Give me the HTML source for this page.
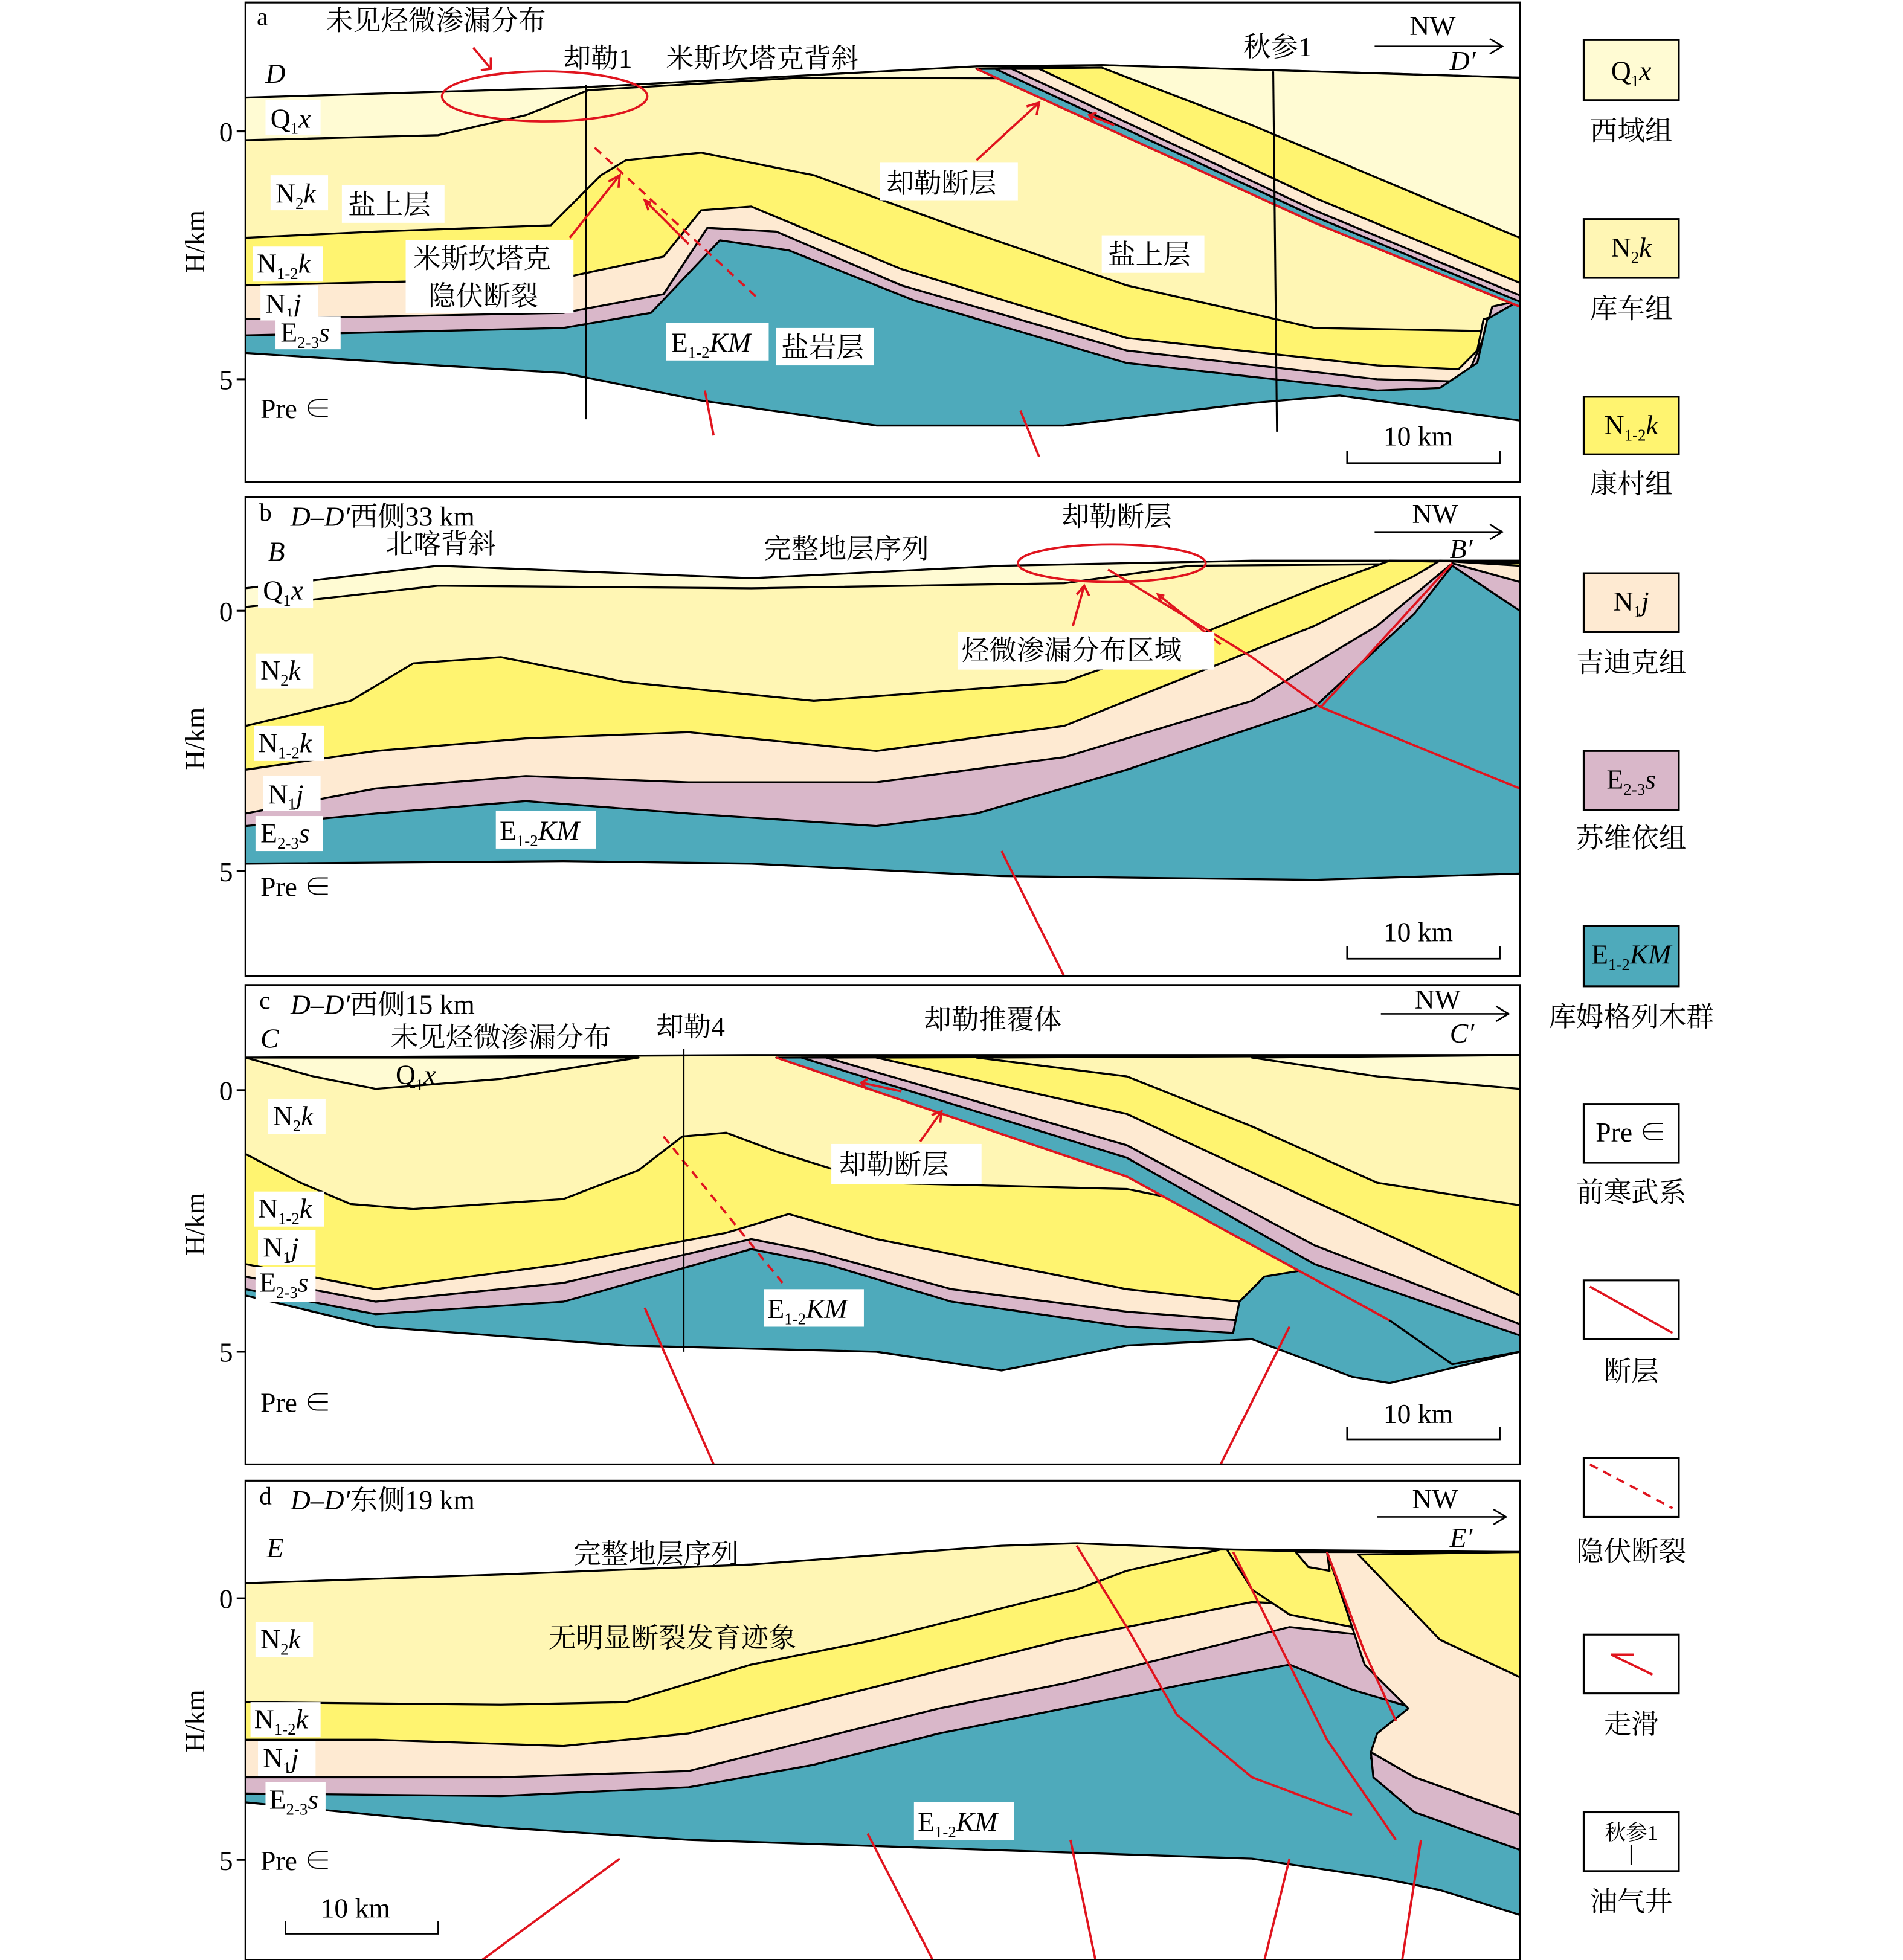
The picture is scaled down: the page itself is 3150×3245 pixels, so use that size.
<!DOCTYPE html>
<html><head><meta charset="utf-8"><style>
html,body{margin:0;padding:0;background:#fff}
svg{display:block}
text{font-family:"Liberation Serif","Noto Serif CJK SC",serif;fill:#000}
.l{stroke:#000;stroke-width:1.6;stroke-linejoin:round}
.q{fill:#fffbd3}.n2{fill:#fff6b4}.y{fill:#fff470}.p{fill:#feead2}.k{fill:#d9b7c9}.t{fill:#4eaabb}.w{fill:#fff}
.r{stroke:#e0141e;stroke-width:1.8;fill:none}
.rd{stroke:#e0141e;stroke-width:1.8;fill:none;stroke-dasharray:7 5}
.lb{fill:#fff}
</style></head><body>
<svg width="3150" height="3245" viewBox="0 0 1520 1566" xmlns="http://www.w3.org/2000/svg">
<defs>
<clipPath id="ca"><rect x="196" y="2" width="1018" height="383"/></clipPath>
<clipPath id="cb"><rect x="196" y="397" width="1018" height="383"/></clipPath>
<clipPath id="cc"><rect x="196" y="787" width="1018" height="383"/></clipPath>
<clipPath id="cd"><rect x="196" y="1183" width="1018" height="383"/></clipPath>
</defs>

<!-- ========== PANEL A ========== -->
<g clip-path="url(#ca)">
<polygon class="q l" points="196,78 460,70 780,53 880,52 1214,62 1214,385 196,385"/>
<polygon class="n2 l" points="196,112 350,108 420,92 470,72 640,62 1214,64 1214,385 196,385"/>
<polygon class="y l" points="196,190 300,185 440,180 480,140 500,128 560,122 650,140 760,180 900,228 1050,262 1214,265 1214,385 196,385"/>
<polygon class="p l" points="196,228 450,222 530,205 560,168 600,165 720,215 900,270 1100,292 1165,295 1180,280 1185,255 1214,248 1214,385 196,385"/>
<polygon class="k l" points="196,255 450,250 530,235 565,182 620,185 720,228 900,280 1100,303 1170,305 1185,270 1192,245 1214,240 1214,385 196,385"/>
<polygon class="t l" points="196,268 450,262 520,250 575,192 630,200 730,240 900,290 1100,312 1150,310 1180,290 1188,255 1214,240 1214,385 196,385"/>
<polygon class="w l" points="196,282 350,292 450,298 560,320 700,340 850,340 1000,322 1070,316 1214,336 1214,390 196,390"/>
<!-- thrust sheet -->
<polygon class="q l" points="780,55 880,52 1214,62 1214,245 1050,178"/>
<polygon class="y l" points="880,54 1000,100 1214,190 1214,245 1050,178 780,55"/>
<polygon class="p l" points="830,55 1050,158 1214,226 1214,245 1050,178 780,55"/>
<polygon class="k l" points="808,55 1050,168 1214,236 1214,245 1050,178 780,55"/>
<polygon class="t l" points="795,55 1050,173 1214,241 1214,245 1050,178 780,55"/>
<polyline class="r" points="780,55 1050,178 1214,245"/>
<line class="rd" x1="475" y1="118" x2="605" y2="238"/>
<line class="r" x1="563" y1="312" x2="570" y2="348"/>
<line class="r" x1="815" y1="328" x2="830" y2="365"/>
<line stroke="#000" stroke-width="1.5" x1="468" y1="68" x2="468" y2="335"/>
<line stroke="#000" stroke-width="1.5" x1="1017" y1="57" x2="1020" y2="345"/>
<ellipse class="r" cx="435" cy="77" rx="82" ry="20"/>
<path class="r" d="M378,38 L392,55 M384,56 L392,55 L392,46"/>
<path class="r" d="M455,190 L495,140 M486,145 L495,140 L494,150"/>
<path class="r" d="M515,160 L550,195 M520,162 L515,160 L518,168"/>
<path class="r" d="M780,128 L830,82 M820,85 L830,82 L828,92"/>
<path class="r" d="M870,92 L890,100 M876,90 L870,92 L874,98"/>
</g>
<rect x="196" y="2" width="1018" height="383" fill="none" stroke="#000" stroke-width="1.5"/>

<!-- ========== PANEL B ========== -->
<g clip-path="url(#cb)">
<polygon class="q l" points="196,470 350,452 600,462 800,452 1000,448 1214,448 1214,780 196,780"/>
<polygon class="n2 l" points="196,485 350,468 600,470 850,466 950,452 1214,450 1214,780 196,780"/>
<polygon class="y l" points="196,580 280,560 330,530 400,525 500,545 650,560 850,545 950,510 1050,470 1110,448 1214,450 1214,780 196,780"/>
<polygon class="p l" points="196,615 300,600 420,590 550,585 700,600 850,580 950,540 1050,500 1130,460 1150,448 1214,452 1214,780 196,780"/>
<polygon class="k l" points="196,650 300,630 420,620 550,625 700,625 850,605 1000,560 1100,500 1160,450 1214,465 1214,780 196,780"/>
<polygon class="t l" points="196,660 300,650 420,640 550,650 700,660 780,650 900,615 1050,565 1130,490 1160,452 1214,488 1214,780 196,780"/>
<polygon class="w l" points="196,690 450,688 600,690 800,700 1050,703 1214,698 1214,785 196,785"/>
<polyline class="r" points="885,455 1000,525 1055,565 1214,630"/>
<polyline class="r" points="1055,565 1160,450"/>
<line class="r" x1="800" y1="680" x2="850" y2="780"/>
<ellipse class="r" cx="888" cy="450" rx="75" ry="15"/>
<path class="r" d="M857,500 L866,468 M860,475 L866,468 L870,476"/>
<path class="r" d="M925,475 L975,515 M930,476 L925,475 L928,482"/>
</g>
<rect x="196" y="397" width="1018" height="383" fill="none" stroke="#000" stroke-width="1.5"/>

<!-- ========== PANEL C ========== -->
<g clip-path="url(#cc)">
<polygon class="n2 l" points="196,845 600,843 1214,843 1214,1170 196,1170"/>
<polygon class="q l" points="196,845 510,845 400,862 300,870 250,860"/>
<polygon class="y l" points="196,922 240,945 280,962 330,966 450,958 510,935 545,908 580,905 620,920 700,945 900,950 1100,990 1214,990 1214,1170 196,1170"/>
<polygon class="p l" points="196,1010 300,1030 450,1010 580,985 630,970 700,990 800,1010 900,1030 990,1040 1214,1060 1214,1170 196,1170"/>
<polygon class="k l" points="196,1020 300,1040 450,1025 600,990 650,1000 760,1030 900,1048 990,1055 1214,1065 1214,1170 196,1170"/>
<polygon class="t l" points="196,1030 300,1050 450,1040 600,998 660,1010 760,1040 900,1060 985,1065 990,1040 1010,1020 1040,1015 1214,1060 1214,1170 196,1170"/>
<polygon class="w l" points="196,1035 300,1060 500,1075 700,1080 800,1095 900,1075 1000,1070 1080,1100 1110,1105 1214,1080 1214,1175 196,1175"/>
<!-- hanging wall -->
<polygon class="t l" points="620,845 1214,843 1214,1080 1160,1090 1110,1055 900,940"/>
<polygon class="k l" points="640,845 1214,843 1214,1067 1050,1010 900,925"/>
<polygon class="p l" points="660,845 1214,843 1214,1058 1050,995 900,915"/>
<polygon class="y l" points="700,845 1214,843 1214,1035 1050,960 900,890"/>
<polygon class="n2 l" points="780,845 1214,843 1214,963 1100,945 1000,900 900,860"/>
<polygon class="q l" points="1000,845 1214,843 1214,870 1100,860"/>
<polyline class="r" points="620,845 900,940 1110,1055"/>
<line class="rd" x1="530" y1="908" x2="625" y2="1025"/>
<line class="r" x1="515" y1="1045" x2="570" y2="1170"/>
<line class="r" x1="1030" y1="1060" x2="975" y2="1170"/>
<line stroke="#000" stroke-width="1.5" x1="546" y1="838" x2="546" y2="1080"/>
<path class="r" d="M735,912 L752,888 M744,891 L752,888 L751,897"/>
<path class="r" d="M688,865 L720,872 M693,862 L688,865 L692,870"/>
</g>
<rect x="196" y="787" width="1018" height="383" fill="none" stroke="#000" stroke-width="1.5"/>

<!-- ========== PANEL D ========== -->
<g clip-path="url(#cd)">
<polygon class="n2 l" points="196,1265 400,1258 600,1250 800,1235 860,1233 980,1238 1060,1240 1214,1240 1214,1566 196,1566"/>
<polygon class="y l" points="196,1360 400,1362 500,1360 600,1330 700,1310 800,1285 860,1270 900,1255 975,1238 1214,1240 1214,1566 196,1566"/>
<polygon class="p l" points="196,1390 300,1390 450,1395 550,1385 650,1360 750,1335 850,1310 950,1290 1000,1280 1214,1290 1214,1566 196,1566"/>
<polygon class="k l" points="196,1420 400,1420 550,1415 650,1390 750,1365 850,1345 950,1320 1030,1300 1214,1320 1214,1566 196,1566"/>
<polygon class="t l" points="196,1433 400,1435 550,1428 650,1410 750,1385 850,1365 950,1345 1030,1330 1080,1350 1130,1365 1100,1390 1095,1405 1110,1425 1214,1450 1214,1566 196,1566"/>
<!-- right block -->
<polygon class="p l" points="1060,1240 1214,1240 1214,1450 1130,1420 1095,1400 1100,1385 1125,1365 1090,1330"/>
<polygon class="y l" points="1085,1242 1214,1240 1214,1340 1150,1310"/>
<polygon class="k l" points="1095,1400 1130,1420 1214,1450 1214,1478 1130,1448 1097,1420"/>
<polygon class="t" points="1097,1422 1130,1450 1214,1479 1214,1530 1150,1510 1110,1480"/>
<polygon class="y l" points="980,1238 1060,1240 1080,1300 1030,1290 1000,1270"/>
<polygon class="p l" points="1035,1240 1060,1240 1062,1255 1045,1252"/>
<polygon class="w l" points="196,1440 400,1460 550,1470 700,1475 850,1480 1000,1485 1100,1500 1150,1510 1214,1530 1214,1570 196,1570"/>
<polyline class="r" points="860,1235 900,1300 940,1370 1000,1420 1080,1450"/>
<polyline class="r" points="985,1240 1010,1290 1060,1390 1115,1470"/>
<polyline class="r" points="1060,1240 1090,1320 1115,1375"/>
<line class="r" x1="495" y1="1485" x2="385" y2="1566"/>
<line class="r" x1="693" y1="1465" x2="745" y2="1566"/>
<line class="r" x1="855" y1="1470" x2="875" y2="1566"/>
<line class="r" x1="1030" y1="1485" x2="1010" y2="1566"/>
<line class="r" x1="1135" y1="1470" x2="1120" y2="1566"/>
</g>
<rect x="196" y="1183" width="1018" height="383" fill="none" stroke="#000" stroke-width="1.5"/>

<!-- ========== AXES ========== -->
<g stroke="#000" stroke-width="1.5">
<line x1="189" y1="105" x2="196" y2="105"/><line x1="189" y1="303" x2="196" y2="303"/>
<line x1="189" y1="488" x2="196" y2="488"/><line x1="189" y1="696" x2="196" y2="696"/>
<line x1="189" y1="871" x2="196" y2="871"/><line x1="189" y1="1080" x2="196" y2="1080"/>
<line x1="189" y1="1277" x2="196" y2="1277"/><line x1="189" y1="1486" x2="196" y2="1486"/>
</g>
<g font-size="22" text-anchor="end">
<text x="186" y="113">0</text><text x="186" y="311">5</text>
<text x="186" y="496">0</text><text x="186" y="704">5</text>
<text x="186" y="879">0</text><text x="186" y="1088">5</text>
<text x="186" y="1285">0</text><text x="186" y="1494">5</text>
</g>
<g font-size="22">
<text transform="translate(163,193) rotate(-90)" text-anchor="middle">H/km</text>
<text transform="translate(163,590) rotate(-90)" text-anchor="middle">H/km</text>
<text transform="translate(163,978) rotate(-90)" text-anchor="middle">H/km</text>
<text transform="translate(163,1375) rotate(-90)" text-anchor="middle">H/km</text>
</g>

<!-- NW arrows & scale bars -->
<g stroke="#000" stroke-width="1.3" fill="none">
<path d="M1098,37 H1200 M1190,31 L1200,37 L1190,43"/>
<path d="M1098,425 H1200 M1190,419 L1200,425 L1190,431"/>
<path d="M1103,810 H1205 M1195,804 L1205,810 L1195,816"/>
<path d="M1100,1212 H1203 M1193,1206 L1203,1212 L1193,1218"/>
<path d="M1076,360 V370 H1198 V360"/>
<path d="M1076,756 V766 H1198 V756"/>
<path d="M1076,1140 V1150 H1198 V1140"/>
<path d="M228,1535 V1545 H350 V1535"/>
</g>

<!-- ========== TEXT PANEL A ========== -->
<g font-size="22">
<text x="205" y="20" font-size="20">a</text>
<text x="260" y="24">未见烃微渗漏分布</text>
<text x="212" y="66" font-style="italic">D</text>
<text x="450" y="54">却勒1</text>
<text x="532" y="54">米斯坎塔克背斜</text>
<text x="993" y="45">秋参1</text>
<text x="1126" y="28">NW</text>
<text x="1158" y="56" font-style="italic">D′</text>
<rect class="lb" x="212" y="80" width="44" height="28"/><text x="216" y="102">Q<tspan font-size="13" dy="5">1</tspan><tspan dy="-5" font-style="italic">x</tspan></text>
<rect class="lb" x="216" y="140" width="46" height="28"/><text x="220" y="162">N<tspan font-size="13" dy="5">2</tspan><tspan dy="-5" font-style="italic">k</tspan></text>
<rect class="lb" x="273" y="148" width="82" height="30"/><text x="278" y="171">盐上层</text>
<rect class="lb" x="202" y="197" width="56" height="28"/><text x="205" y="218">N<tspan font-size="13" dy="5">1-2</tspan><tspan dy="-5" font-style="italic">k</tspan></text>
<rect class="lb" x="324" y="192" width="134" height="58"/><text x="330" y="214">米斯坎塔克</text><text x="342" y="244">隐伏断裂</text>
<rect class="lb" x="208" y="228" width="46" height="28"/><text x="212" y="250">N<tspan font-size="13" dy="5">1</tspan><tspan dy="-5" font-style="italic">j</tspan></text>
<rect class="lb" x="220" y="253" width="52" height="26"/><text x="224" y="273">E<tspan font-size="13" dy="5">2-3</tspan><tspan dy="-5" font-style="italic">s</tspan></text>
<rect class="lb" x="703" y="130" width="110" height="30"/><text x="708" y="154">却勒断层</text>
<rect class="lb" x="880" y="188" width="82" height="30"/><text x="885" y="211">盐上层</text>
<rect class="lb" x="532" y="258" width="82" height="30"/><text x="536" y="281">E<tspan font-size="13" dy="5">1-2</tspan><tspan dy="-5" font-style="italic">KM</tspan></text>
<rect class="lb" x="620" y="262" width="78" height="30"/><text x="624" y="285">盐岩层</text>
<text x="208" y="334">Pre ∈</text>
<text x="1105" y="356">10 km</text>
</g>

<!-- ========== TEXT PANEL B ========== -->
<g font-size="22">
<text x="207" y="416" font-size="20">b</text>
<text x="232" y="420"><tspan font-style="italic">D</tspan>–<tspan font-style="italic">D′</tspan>西侧33 km</text>
<text x="214" y="448" font-style="italic">B</text>
<text x="308" y="442">北喀背斜</text>
<text x="610" y="446">完整地层序列</text>
<text x="848" y="420">却勒断层</text>
<text x="1128" y="418">NW</text>
<text x="1158" y="446" font-style="italic">B′</text>
<rect class="lb" x="206" y="458" width="44" height="28"/><text x="210" y="479">Q<tspan font-size="13" dy="5">1</tspan><tspan dy="-5" font-style="italic">x</tspan></text>
<rect class="lb" x="204" y="522" width="46" height="28"/><text x="208" y="543">N<tspan font-size="13" dy="5">2</tspan><tspan dy="-5" font-style="italic">k</tspan></text>
<rect class="lb" x="765" y="505" width="205" height="30"/><text x="768" y="527">烃微渗漏分布区域</text>
<rect class="lb" x="203" y="580" width="56" height="28"/><text x="206" y="601">N<tspan font-size="13" dy="5">1-2</tspan><tspan dy="-5" font-style="italic">k</tspan></text>
<rect class="lb" x="210" y="620" width="46" height="28"/><text x="214" y="642">N<tspan font-size="13" dy="5">1</tspan><tspan dy="-5" font-style="italic">j</tspan></text>
<rect class="lb" x="204" y="652" width="54" height="28"/><text x="208" y="673">E<tspan font-size="13" dy="5">2-3</tspan><tspan dy="-5" font-style="italic">s</tspan></text>
<rect class="lb" x="396" y="648" width="80" height="30"/><text x="399" y="671">E<tspan font-size="13" dy="5">1-2</tspan><tspan dy="-5" font-style="italic">KM</tspan></text>
<text x="208" y="716">Pre ∈</text>
<text x="1105" y="752">10 km</text>
</g>

<!-- ========== TEXT PANEL C ========== -->
<g font-size="22">
<text x="207" y="806" font-size="20">c</text>
<text x="232" y="810"><tspan font-style="italic">D</tspan>–<tspan font-style="italic">D′</tspan>西侧15 km</text>
<text x="208" y="837" font-style="italic">C</text>
<text x="312" y="836">未见烃微渗漏分布</text>
<text x="524" y="828">却勒4</text>
<text x="738" y="822">却勒推覆体</text>
<text x="1130" y="806">NW</text>
<text x="1158" y="833" font-style="italic">C′</text>
<text x="316" y="866">Q<tspan font-size="13" dy="5">1</tspan><tspan dy="-5" font-style="italic">x</tspan></text>
<rect class="lb" x="214" y="878" width="46" height="28"/><text x="218" y="899">N<tspan font-size="13" dy="5">2</tspan><tspan dy="-5" font-style="italic">k</tspan></text>
<rect class="lb" x="664" y="914" width="120" height="32"/><text x="670" y="938">却勒断层</text>
<rect class="lb" x="203" y="952" width="56" height="28"/><text x="206" y="973">N<tspan font-size="13" dy="5">1-2</tspan><tspan dy="-5" font-style="italic">k</tspan></text>
<rect class="lb" x="206" y="983" width="46" height="28"/><text x="210" y="1004">N<tspan font-size="13" dy="5">1</tspan><tspan dy="-5" font-style="italic">j</tspan></text>
<rect class="lb" x="204" y="1012" width="48" height="28"/><text x="207" y="1032">E<tspan font-size="13" dy="5">2-3</tspan><tspan dy="-5" font-style="italic">s</tspan></text>
<rect class="lb" x="610" y="1030" width="80" height="30"/><text x="613" y="1053">E<tspan font-size="13" dy="5">1-2</tspan><tspan dy="-5" font-style="italic">KM</tspan></text>
<text x="208" y="1128">Pre ∈</text>
<text x="1105" y="1137">10 km</text>
</g>

<!-- ========== TEXT PANEL D ========== -->
<g font-size="22">
<text x="207" y="1202" font-size="20">d</text>
<text x="232" y="1206"><tspan font-style="italic">D</tspan>–<tspan font-style="italic">D′</tspan>东侧19 km</text>
<text x="213" y="1244" font-style="italic">E</text>
<text x="458" y="1249">完整地层序列</text>
<text x="1128" y="1205">NW</text>
<text x="1158" y="1236" font-style="italic">E′</text>
<rect class="lb" x="204" y="1296" width="46" height="28"/><text x="208" y="1317">N<tspan font-size="13" dy="5">2</tspan><tspan dy="-5" font-style="italic">k</tspan></text>
<text x="438" y="1316">无明显断裂发育迹象</text>
<rect class="lb" x="200" y="1360" width="56" height="28"/><text x="203" y="1381">N<tspan font-size="13" dy="5">1-2</tspan><tspan dy="-5" font-style="italic">k</tspan></text>
<rect class="lb" x="206" y="1391" width="46" height="28"/><text x="210" y="1412">N<tspan font-size="13" dy="5">1</tspan><tspan dy="-5" font-style="italic">j</tspan></text>
<rect class="lb" x="212" y="1424" width="48" height="28"/><text x="215" y="1445">E<tspan font-size="13" dy="5">2-3</tspan><tspan dy="-5" font-style="italic">s</tspan></text>
<rect class="lb" x="730" y="1440" width="80" height="30"/><text x="733" y="1463">E<tspan font-size="13" dy="5">1-2</tspan><tspan dy="-5" font-style="italic">KM</tspan></text>
<text x="208" y="1494">Pre ∈</text>
<text x="256" y="1532">10 km</text>
</g>

<!-- ========== LEGEND ========== -->
<g stroke="#000" stroke-width="1.5">
<rect class="q" x="1265" y="32" width="76" height="48"/>
<rect class="n2" x="1265" y="175" width="76" height="47"/>
<rect class="y" x="1265" y="317" width="76" height="46"/>
<rect class="p" x="1265" y="458" width="76" height="47"/>
<rect class="k" x="1265" y="600" width="76" height="47"/>
<rect class="t" x="1265" y="740" width="76" height="48"/>
<rect fill="#fff" x="1265" y="882" width="76" height="47"/>
<rect fill="#fff" x="1265" y="1023" width="76" height="47"/>
<rect fill="#fff" x="1265" y="1165" width="76" height="47"/>
<rect fill="#fff" x="1265" y="1306" width="76" height="47"/>
<rect fill="#fff" x="1265" y="1448" width="76" height="47"/>
</g>
<line class="r" x1="1270" y1="1028" x2="1336" y2="1065"/>
<line class="rd" x1="1270" y1="1170" x2="1336" y2="1205"/>
<path class="r" d="M1287,1322 L1320,1338 M1287,1322 L1305,1322"/>
<line stroke="#000" stroke-width="1.2" x1="1303" y1="1474" x2="1303" y2="1490"/>
<g font-size="22" text-anchor="middle">
<text x="1303" y="64">Q<tspan font-size="13" dy="5">1</tspan><tspan dy="-5" font-style="italic">x</tspan></text>
<text x="1303" y="205">N<tspan font-size="13" dy="5">2</tspan><tspan dy="-5" font-style="italic">k</tspan></text>
<text x="1303" y="347">N<tspan font-size="13" dy="5">1-2</tspan><tspan dy="-5" font-style="italic">k</tspan></text>
<text x="1303" y="488">N<tspan font-size="13" dy="5">1</tspan><tspan dy="-5" font-style="italic">j</tspan></text>
<text x="1303" y="630">E<tspan font-size="13" dy="5">2-3</tspan><tspan dy="-5" font-style="italic">s</tspan></text>
<text x="1303" y="770">E<tspan font-size="13" dy="5">1-2</tspan><tspan dy="-5" font-style="italic">KM</tspan></text>
<text x="1303" y="912">Pre ∈</text>
<text x="1303" y="1470" font-size="17">秋参1</text>
<text x="1303" y="112">西域组</text>
<text x="1303" y="254">库车组</text>
<text x="1303" y="394">康村组</text>
<text x="1303" y="537">吉迪克组</text>
<text x="1303" y="677">苏维依组</text>
<text x="1303" y="820">库姆格列木群</text>
<text x="1303" y="960">前寒武系</text>
<text x="1303" y="1103">断层</text>
<text x="1303" y="1247">隐伏断裂</text>
<text x="1303" y="1385">走滑</text>
<text x="1303" y="1527">油气井</text>
</g>
</svg>
</body></html>
